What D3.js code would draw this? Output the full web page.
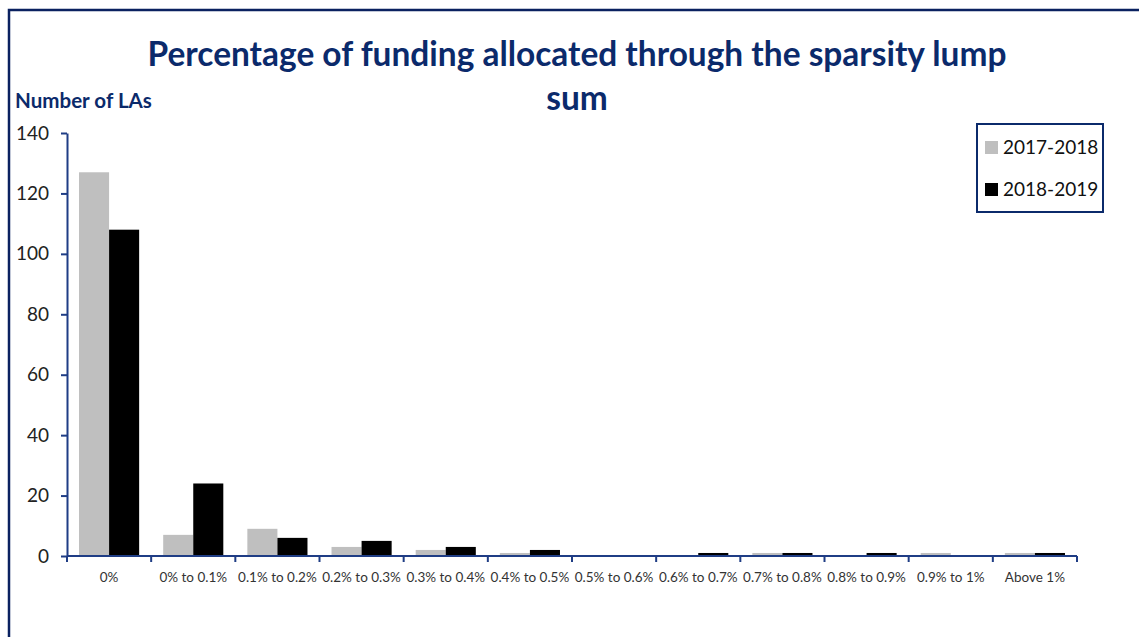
<!DOCTYPE html>
<html>
<head>
<meta charset="utf-8">
<script src="https://cdn.jsdelivr.net/npm/d3@7"></script>
<style>
  html, body { margin: 0; padding: 0; background: #fff; }
  svg { display: block; }
</style>
</head>
<body>
<svg id="chart" width="1139" height="637"></svg>
<script>
const categories = ["0%", "0% to 0.1%", "0.1% to 0.2%", "0.2% to 0.3%", "0.3% to 0.4%", "0.4% to 0.5%",
  "0.5% to 0.6%", "0.6% to 0.7%", "0.7% to 0.8%", "0.8% to 0.9%", "0.9% to 1%", "Above 1%"];
const seriesNames = ["2017-2018", "2018-2019"];
const values2017 = [127, 7, 9, 3, 2, 1, 0, 0, 1, 0, 1, 1];
const values2018 = [108, 24, 6, 5, 3, 2, 0, 1, 1, 1, 0, 1];
const yTicks = [0, 20, 40, 60, 80, 100, 120, 140];
const colors = ["#bfbfbf", "#000000"];
const titleLines = ["Percentage of funding allocated through the sparsity lump", "sum"];
const yTitle = "Number of LAs";

const navy = "#0b2a6b";
const axisCol = "#1f3d85";
const font = "Lato, 'Open Sans', sans-serif";

const svg = d3.select("#chart");
const W = 1139, H = 637;
const m = { left: 67, right: 1077, top: 133, bottom: 556 };

// outer border (left + top only visible)
svg.append("path")
  .attr("d", `M9,${H} L9,10 L${W},10`)
  .attr("fill", "none").attr("stroke", "#0a2160").attr("stroke-width", 2.5);

const x = d3.scaleBand().domain(categories).range([m.left, m.right]).paddingInner(0).paddingOuter(0);
const x1 = d3.scaleBand().domain(seriesNames).range([0, x.bandwidth()]).paddingInner(0).paddingOuter(0.4);
const y = d3.scaleLinear().domain([0, 140]).range([m.bottom, m.top]);

const data = categories.map((c, i) => ({ cat: c, vals: [values2017[i], values2018[i]] }));

const g = svg.append("g");
const groups = g.selectAll("g.grp").data(data).enter().append("g")
  .attr("transform", d => `translate(${x(d.cat)},0)`);
groups.selectAll("rect").data(d => d.vals.map((v, k) => ({ v, k })))
  .enter().append("rect")
  .attr("x", d => x1(seriesNames[d.k]))
  .attr("width", x1.bandwidth())
  .attr("y", d => y(d.v))
  .attr("height", d => y(0) - y(d.v))
  .attr("fill", d => colors[d.k]);

// y axis
const yAxis = d3.axisLeft(y).tickValues(yTicks).tickSize(6).tickSizeOuter(0);
const ya = svg.append("g").attr("transform", `translate(${m.left},0)`).call(yAxis);
ya.select(".domain").attr("stroke", axisCol).attr("stroke-width", 2);
ya.selectAll(".tick line").attr("stroke", axisCol).attr("stroke-width", 2);
ya.selectAll(".tick text").attr("x", -18).attr("fill", "#222")
  .style("font-family", font).style("font-size", "19px");

// x axis: ticks at band boundaries
svg.append("line").attr("x1", m.left).attr("x2", m.right).attr("y1", y(0)).attr("y2", y(0))
  .attr("stroke", axisCol).attr("stroke-width", 2);
const bounds = categories.map(c => x(c)).concat([m.right]);
svg.selectAll("line.xt").data(bounds).enter().append("line")
  .attr("x1", d => d).attr("x2", d => d)
  .attr("y1", y(0)).attr("y2", y(0) + 6)
  .attr("stroke", axisCol).attr("stroke-width", 2);
svg.selectAll("text.xl").data(categories).enter().append("text")
  .attr("x", d => x(d) + x.bandwidth() / 2)
  .attr("y", 582)
  .attr("text-anchor", "middle")
  .attr("fill", "#333")
  .style("font-family", font).style("font-size", "13.5px")
  .text(d => d);

// title
const t1 = svg.append("text").attr("x", 577).attr("y", 66).attr("text-anchor", "middle")
  .attr("fill", navy).style("font-family", font).style("font-weight", "bold").style("font-size", "31px")
  .text(titleLines[0]);
const len = t1.node().getComputedTextLength();
const target = 859;
const fs = 31 * target / len;
t1.style("font-size", fs + "px");
svg.append("text").attr("x", 577).attr("y", 110).attr("text-anchor", "middle")
  .attr("fill", navy).style("font-family", font).style("font-weight", "bold").style("font-size", fs + "px")
  .text(titleLines[1]);

// y title
const yt = svg.append("text").attr("x", 15).attr("y", 108)
  .attr("fill", navy).style("font-family", font).style("font-weight", "bold").style("font-size", "17px")
  .text(yTitle);
const ytl = yt.node().getComputedTextLength();
yt.style("font-size", (17 * 137 / ytl) + "px");

// legend
const lg = svg.append("g");
lg.append("rect").attr("x", 977).attr("y", 124).attr("width", 126).attr("height", 88)
  .attr("fill", "#fff").attr("stroke", navy).attr("stroke-width", 2);
seriesNames.forEach((s, i) => {
  const cy = 147 + i * 42;
  lg.append("rect").attr("x", 985).attr("y", cy - 6).attr("width", 13).attr("height", 13).attr("fill", colors[i]);
  lg.append("text").attr("x", 1003).attr("y", cy + 7).attr("fill", "#111")
    .style("font-family", font).style("font-size", "19px").text(s);
});
</script>
</body>
</html>
